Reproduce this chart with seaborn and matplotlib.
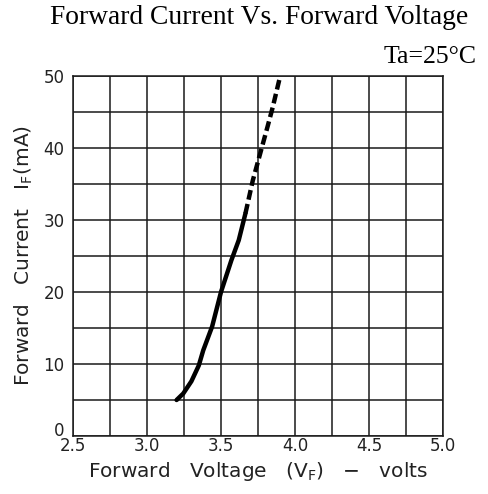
import numpy as np
import pandas as pd
import matplotlib
matplotlib.use("Agg")
import matplotlib.pyplot as plt
import seaborn as sns

# Data
v_solid = [3.20, 3.245, 3.30, 3.35, 3.38, 3.44, 3.50, 3.57, 3.62, 3.665]
i_solid = [5.0, 5.9, 7.6, 9.8, 11.9, 15.2, 20.0, 24.4, 27.2, 30.9]
v_dash = [3.665, 3.715, 3.775, 3.815, 3.85, 3.90]
i_dash = [30.9, 35.5, 40.0, 43.0, 45.7, 50.0]

x_ticks = [2.5, 3.0, 3.5, 4.0, 4.5, 5.0]
y_ticks = [0, 10, 20, 30, 40, 50]

sns.set_style("white")
plt.rcParams['font.family'] = ['DejaVu Sans']

fig = plt.figure(figsize=(4.89, 4.94), dpi=100)
ax = fig.add_axes([73/489, 1-436/494, 370/489, 360/494])

df_s = pd.DataFrame({"V": v_solid, "I": i_solid})
df_d = pd.DataFrame({"V": v_dash, "I": i_dash})
sns.lineplot(data=df_s, x="V", y="I", ax=ax, color="black", lw=3.2, sort=False,
             solid_capstyle="round")
sns.lineplot(data=df_d, x="V", y="I", ax=ax, color="black", lw=3.2, sort=False,
             dashes=False, linestyle=(0, (2.2, 1.0)))

xt = np.arange(2.5, 5.01, 0.25)
yt = np.arange(0, 50.1, 5)
ax.set_xlim(2.5, 5.0)
ax.set_ylim(0, 50)
ax.set_xticks(xt)
ax.set_yticks(yt)
ax.grid(True, color="#1a1a1a", lw=1.1)
ax.set_xticklabels([f"{t:.1f}" if any(abs(t - x) < 1e-6 for x in x_ticks) else "" for t in xt])
ax.set_yticklabels([f"{int(t)}" if int(t) in y_ticks else "" for t in yt])
ax.tick_params(axis="both", length=0, labelsize=12, colors="#222222")
ax.tick_params(axis="x", pad=1)
ax.tick_params(axis="y", pad=6)
for lab in ax.get_yticklabels():
    if lab.get_text() == "0":
        lab.set_va("baseline")
for s in ax.spines.values():
    s.set_color("#1a1a1a")
    s.set_linewidth(1.1)

ax.set_xlabel("Forward   Voltage   (V$_\\mathregular{F}$)   $-$   volts", fontsize=14.5,
              color="#222222", labelpad=3)
ax.set_ylabel("Forward   Current   I$_\\mathregular{F}$(mA)", fontsize=14.5,
              color="#222222", labelpad=6)

fig.text(259/489, 1-17/494, "Forward Current Vs. Forward Voltage",
         family="Liberation Serif", fontsize=19.8, ha="center", va="center", color="black")
fig.text(477/489, 1-57/494, "Ta=25\u00b0C", family="Liberation Serif", fontsize=18.5,
         ha="right", va="center", color="black")

fig.savefig("out.png", dpi=100)
